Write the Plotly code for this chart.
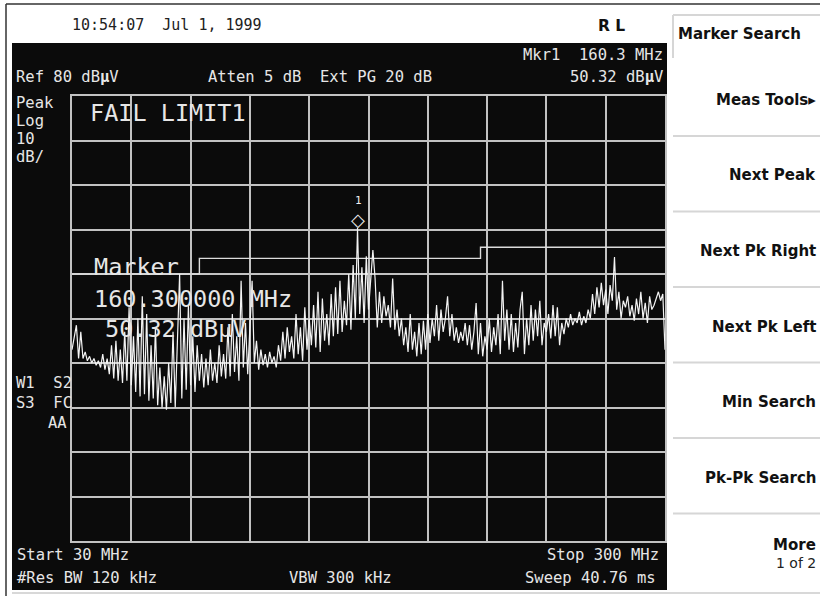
import numpy as np
import plotly.graph_objects as go

# ---------------- data ----------------
FREQ_START_MHZ = 30
FREQ_STOP_MHZ = 300
REF_LEVEL = 80
DB_PER_DIV = 10

TRACE_LEVELS = [
    23, 26, 28.5, 21, 27, 21, 22.5, 20.5, 21.5, 20,
    21, 19.5, 20.5, 19, 22, 18.5, 21, 17.5, 24, 16.5,
    25, 16, 23, 15.5, 27, 16, 32.5, 15, 26, 13.5,
    30, 12.5, 35, 13, 31, 11.5, 24, 12, 28, 10.5,
    19, 10, 17, 9.5, 20, 11, 27, 10, 25, 40,
    12, 30, 14, 33, 15, 26, 13.5, 24, 16, 22,
    14.5, 21, 15, 23, 16, 20, 15.5, 24, 17, 22,
    16.5, 28, 17, 31, 18, 26, 16, 38.5, 19, 29,
    17.5, 27, 38.5, 20, 25, 18.5, 23, 19.5, 22, 19,
    22.5, 20, 21.5, 19, 24, 20.5, 27, 21, 28, 22.5,
    26, 21, 31, 22, 28, 20.5, 32.5, 23, 30, 24,
    33, 23.5, 36, 22.5, 34.5, 25, 31, 24, 35.5, 26,
    37, 26.5, 38.5, 27, 34, 28.5, 40, 27.5, 42, 30,
    50.32, 31, 41.5, 29, 44, 32, 38, 45.4, 39, 28,
    36, 29, 35, 30.5, 33, 28, 39, 27.5, 32, 26,
    30, 24, 28, 22.5, 31, 23, 27, 21.5, 29, 22,
    29.5, 23, 31, 24.5, 30, 26, 33, 25, 32, 27,
    30, 35, 26, 31, 25, 28, 24.5, 27, 25, 29,
    24, 28.5, 23, 27, 33.5, 22, 29, 21.5, 26, 23,
    30, 22.5, 28, 24, 31, 22, 38.5, 25, 32, 23,
    31, 22.5, 29, 23.5, 32, 36, 22, 30, 24, 33,
    25, 32, 26, 34, 24, 29, 27, 31, 25.5, 33,
    26, 32.5, 24, 29, 26.5, 30, 28, 31, 28.5, 30,
    29, 31.5, 28.5, 30.5, 29, 32, 30, 35.5, 31, 37,
    32.5, 38, 33, 36.5, 31, 37.5, 34, 43.8, 32, 36,
    30, 34, 32.5, 35, 30.5, 33, 29.5, 34.5, 31, 36,
    30, 33.5, 29, 35, 32, 33, 34.5, 36, 34, 35.5,
    23,
]

LIMIT_FREQS = [30, 88, 216, 300]
LIMIT_LEVELS = [40, 43.5, 46, 46]

MARKER_FREQ = 160.3
MARKER_LEVEL = 50.32

SOFTKEYS = ["Meas Tools\u25b8", "Next Peak", "Next Pk Right", "Next Pk Left",
            "Min Search", "Pk-Pk Search"]

# ---------------- layout helpers ----------------
W, H = 820, 596
L, R, T, B = 72, 665, 96, 541   # graticule pixel box


def px(x):
    return (x - L) / (R - L)


def py(y):
    return (B - y) / (B - T)


freqs = np.linspace(FREQ_START_MHZ, FREQ_STOP_MHZ, len(TRACE_LEVELS))

fig = go.Figure()
fig.add_trace(go.Scatter(x=LIMIT_FREQS, y=LIMIT_LEVELS, mode="lines",
                         line=dict(color="#dcdcdc", width=1.4, shape="hv"),
                         hoverinfo="skip", showlegend=False))
fig.add_trace(go.Scatter(x=freqs, y=TRACE_LEVELS, mode="lines",
                         line=dict(color="#f4f4f4", width=1.2),
                         showlegend=False))

MONO = "DejaVu Sans Mono"
SANS = "DejaVu Sans"
SCREEN_TXT = "#e6e6e6"

ann = []


def text(x, y, s, anchor="left", size=16, color=SCREEN_TXT, family=MONO):
    ann.append(dict(x=px(x), y=py(y), xref="paper", yref="paper", text=s,
                    showarrow=False, xanchor=anchor, yanchor="middle",
                    font=dict(family=family, size=size, color=color)))


# top white strip
text(70, 25, "10:54:07  Jul 1, 1999", size=15, color="#222222")
text(596, 26, "<b>R L</b>", size=15.5, color="#111111", family=SANS)

# screen header
text(14, 77, "Ref 80 dB<b>\u00b5</b>V", size=15.5)
text(206, 77, "Atten 5 dB  Ext PG 20 dB", size=15.5)
text(665, 55, "Mkr1  160.3 MHz", anchor="right", size=15.5)
text(665, 77, "50.32 dB<b>\u00b5</b>V", anchor="right", size=15.5)

# left column
for i, s in enumerate(["Peak", "Log", "10", "dB/"]):
    text(14, 103 + i * 18, s, size=15.5)
text(14, 383, "W1  S2", size=15.5)
text(14, 403, "S3  FC", size=15.5)
text(69, 423, "AA", anchor="right", size=15.5)

# bottom
text(15, 555, "Start 30 MHz", size=15.5)
text(15, 578, "#Res BW 120 kHz", size=15.5)
text(287, 578, "VBW 300 kHz", size=15.5)
text(661, 555, "Stop 300 MHz", anchor="right", size=15.5)
text(658, 578, "Sweep 40.76 ms", anchor="right", size=15.5)

# big overlay texts
text(88, 113, "FAIL LIMIT1", size=23.5)
text(92, 267, "Marker", size=23.5)
text(92, 299, "160.300000 MHz", size=23.5)
text(103, 329, "50.32 dB\u00b5V", size=23.5)

# marker symbol
ann.append(dict(x=MARKER_FREQ, y=MARKER_LEVEL, xref="x", yref="y", text="\u25c7",
                showarrow=False, xanchor="center", yanchor="bottom", yshift=-4,
                font=dict(family=SANS, size=18, color="#f0f0f0")))
ann.append(dict(x=MARKER_FREQ, y=MARKER_LEVEL, xref="x", yref="y", text="1",
                showarrow=False, xanchor="center", yanchor="bottom", yshift=19,
                font=dict(family=MONO, size=11, color="#f0f0f0")))

# softkeys
KEY_SIZE = 15
KEY_RIGHT = 818
text(676, 34, "<b>Marker Search</b>", size=KEY_SIZE, color="#111111", family=SANS)
for i, s in enumerate(SOFTKEYS):
    text(KEY_RIGHT, 100 + i * 75.5, "<b>" + s + "</b>", anchor="right", size=KEY_SIZE,
         color="#111111", family=SANS)
text(KEY_RIGHT, 545, "<b>More</b>", anchor="right", size=KEY_SIZE, color="#111111", family=SANS)
text(KEY_RIGHT, 563, "1 of 2", anchor="right", size=14, color="#222222", family=SANS)

shapes = []
# black screen
shapes.append(dict(type="rect", xref="paper", yref="paper", layer="below",
                   x0=px(12), x1=px(667), y0=py(590), y1=py(43),
                   fillcolor="#0b0b0b", line=dict(width=0)))
# outer frame
shapes.append(dict(type="line", xref="paper", yref="paper",
                   x0=px(6), x1=px(6), y0=py(4), y1=py(596),
                   line=dict(color="#333333", width=1.5)))
shapes.append(dict(type="line", xref="paper", yref="paper",
                   x0=px(6), x1=px(820), y0=py(4), y1=py(4),
                   line=dict(color="#333333", width=1.5)))
# bottom light line
shapes.append(dict(type="line", xref="paper", yref="paper",
                   x0=px(12), x1=px(820), y0=py(593), y1=py(593),
                   line=dict(color="#d8d8d8", width=2)))
# softkey separators
for i in range(6):
    yy = 136 + i * 75.5
    shapes.append(dict(type="line", xref="paper", yref="paper",
                       x0=px(673), x1=px(820), y0=py(yy), y1=py(yy),
                       line=dict(color="#d6d6d6", width=2)))
# title box
shapes.append(dict(type="line", xref="paper", yref="paper",
                   x0=px(673), x1=px(673), y0=py(15), y1=py(58),
                   line=dict(color="#d6d6d6", width=2)))
shapes.append(dict(type="line", xref="paper", yref="paper",
                   x0=px(673), x1=px(820), y0=py(15), y1=py(15),
                   line=dict(color="#d6d6d6", width=2)))

GRID = "#c2c2c2"
fig.update_layout(
    width=W, height=H, autosize=False,
    margin=dict(l=L, r=W - R, t=T, b=H - B, pad=0),
    paper_bgcolor="white", plot_bgcolor="#0b0b0b",
    showlegend=False,
    annotations=ann, shapes=shapes,
    xaxis=dict(range=[FREQ_START_MHZ, FREQ_STOP_MHZ], tick0=FREQ_START_MHZ,
               dtick=(FREQ_STOP_MHZ - FREQ_START_MHZ) / 10,
               showgrid=True, gridcolor=GRID, gridwidth=1.5,
               showticklabels=False, ticks="", zeroline=False,
               showline=True, mirror=True, linecolor=GRID, linewidth=1.5,
               fixedrange=True),
    yaxis=dict(range=[REF_LEVEL - 10 * DB_PER_DIV, REF_LEVEL], tick0=REF_LEVEL,
               dtick=DB_PER_DIV,
               showgrid=True, gridcolor=GRID, gridwidth=1.5,
               showticklabels=False, ticks="", zeroline=False,
               showline=True, mirror=True, linecolor=GRID, linewidth=1.5,
               fixedrange=True),
)

fig.write_html(
    "out.html",
    config={"displayModeBar": False},
    post_script="document.body.style.margin='0';document.body.style.overflow='hidden';",
)
